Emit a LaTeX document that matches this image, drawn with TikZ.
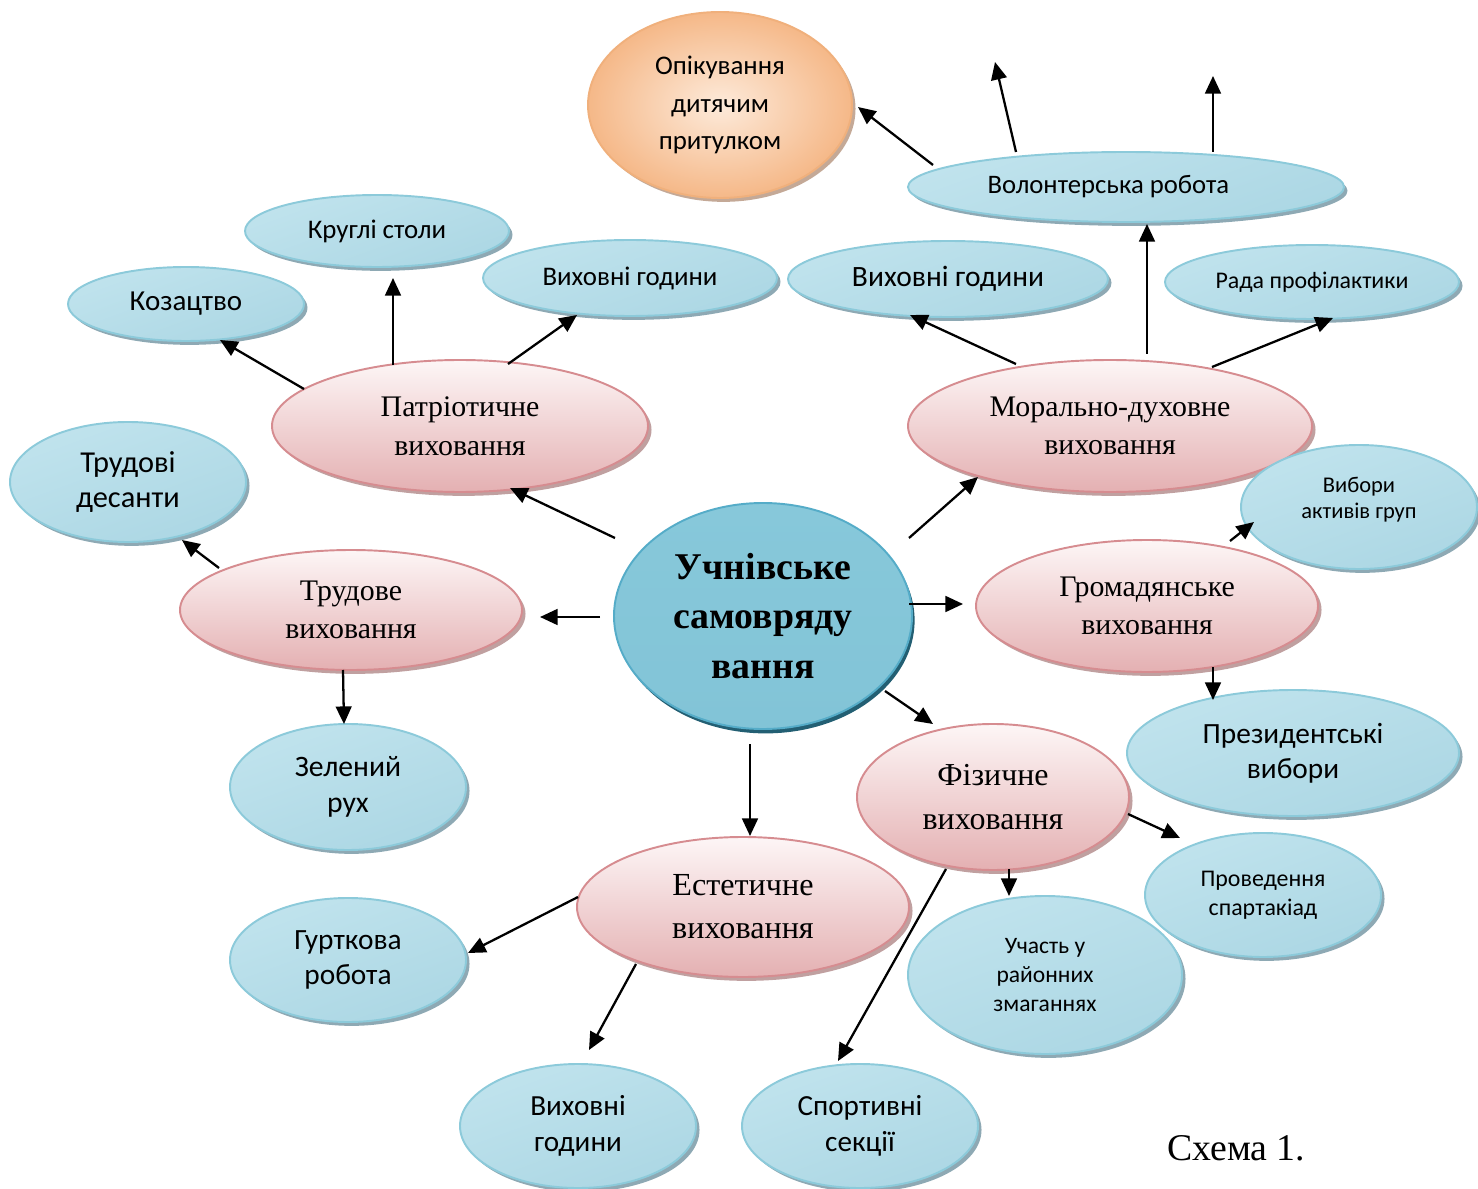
\documentclass[tikz,border=0pt]{standalone}
\usepackage{fontspec}
\setmainfont{Liberation Serif}
\newfontfamily\calfont{Carlito}
\usetikzlibrary{shapes.geometric,shadows,arrows.meta}
\definecolor{blTop}{RGB}{192,227,237}
\definecolor{blMid}{RGB}{228,243,248}
\definecolor{blBot}{RGB}{172,215,228}
\definecolor{blDraw}{RGB}{140,202,218}
\definecolor{blShadow}{RGB}{130,160,172}
\definecolor{pkTop}{RGB}{253,246,246}
\definecolor{pkMid}{RGB}{244,218,219}
\definecolor{pkBot}{RGB}{228,176,178}
\definecolor{pkDraw}{RGB}{214,140,144}
\definecolor{pkShadow}{RGB}{185,150,150}
\definecolor{cnTop}{RGB}{135,200,218}
\definecolor{cnMid}{RGB}{66,164,195}
\definecolor{cnBot}{RGB}{130,196,215}
\definecolor{cnDraw}{RGB}{85,172,200}
\definecolor{cnShadow}{RGB}{35,95,115}
\definecolor{orIn}{RGB}{253,234,218}
\definecolor{orOut}{RGB}{245,184,136}
\definecolor{orDraw}{RGB}{240,176,124}
\definecolor{orShadow}{RGB}{190,160,140}
\newcommand\fs[2]{\fontsize{#1}{#2}\selectfont}
\tikzset{
  sz/.style 2 args={minimum width=#1*0.02cm, minimum height=#2*0.02cm},
  cf/.style 2 args={font=\calfont\fs{#1}{#2}},
  tf/.style 2 args={font=\fs{#1}{#2}},
  bub/.style={ellipse, inner sep=0pt, align=center, line width=1.1pt},
  blueb/.style={bub, draw=blDraw, top color=blTop, middle color=blMid, bottom color=blBot,
    shading angle=20,
    drop shadow={shadow xshift=2pt, shadow yshift=-2.2pt, fill=blShadow, opacity=0.9}},
  pinkb/.style={bub, draw=pkDraw, top color=pkTop, middle color=pkMid, bottom color=pkBot,
    drop shadow={shadow xshift=2pt, shadow yshift=-2.2pt, fill=pkShadow, opacity=0.9}},
  centb/.style={bub, draw=cnDraw, top color=cnTop, middle color=cnMid, bottom color=cnBot,
    drop shadow={shadow xshift=1.5pt, shadow yshift=-2.5pt, fill=cnShadow, opacity=1}},
  orb/.style={bub, draw=orDraw, inner color=orIn, outer color=orOut,
    drop shadow={shadow xshift=2pt, shadow yshift=-2.2pt, fill=orShadow, opacity=0.9}},
  arr/.style={-{Triangle[length=10pt,width=9pt]}, line width=1.3pt, black},
}
\begin{document}
\begin{tikzpicture}[x=0.02cm, y=-0.02cm]
\useasboundingbox (0,0) rectangle (1478,1189);
% centre
\node[centb, sz={298}{226}, font=\fs{21.5}{28}\bfseries] (cen) at (763,616) {Учнівське\\самовряду\\вання};
% pink
\node[pinkb, sz={376}{132}, tf={17}{22}] (pat) at (460,426) {Патріотичне\\виховання};
\node[pinkb, sz={404}{132}, tf={17}{22}] (mor) at (1110,426) {Морально-духовне\\виховання};
\node[pinkb, sz={342}{120}, tf={17}{21.5}] (trud) at (351,610) {Трудове\\виховання};
\node[pinkb, sz={342}{132}, tf={17}{22}] (grom) at (1147,606) {Громадянське\\виховання};
\node[pinkb, sz={272}{146}, tf={18.2}{25}] (fiz) at (993,797) {Фізичне\\виховання};
\node[pinkb, sz={332}{140}, tf={18.3}{24.5}] (est) at (743,907) {Естетичне\\виховання};
% orange
\node[orb, sz={264}{186}, cf={15.3}{21.5}] (opik) at (720,105) {Опікування\\дитячим\\притулком};
% blue
\node[blueb, sz={436}{70}, cf={15.2}{18}] (volon) at (1126,187) {Волонтерська робота\hspace*{20pt}};
\node[blueb, sz={264}{72}, cf={15.3}{18}] (krug) at (377,231) {Круглі столи};
\node[blueb, sz={236}{74}, cf={16.5}{19}] (koz) at (186,304) {Козацтво};
\node[blueb, sz={294}{76}, cf={15.3}{18}] (vgl) at (630,278) {Виховні години};
\node[blueb, sz={320}{76}, cf={16.8}{19}] (vgr) at (948,279) {Виховні години};
\node[blueb, sz={294}{74}, cf={13.6}{16}] (rada) at (1312,282) {Рада профілактики};
\node[blueb, sz={236}{120}, cf={17.3}{20.4}] (trd) at (128,482) {Трудові\\десанти};
\node[blueb, sz={236}{124}, cf={12.8}{14.7}] (vyb) at (1359,507) {\raisebox{1pt}[0pt][0pt]{\begin{tabular}{@{}c@{}}Вибори\\активів груп\end{tabular}}};
\node[blueb, sz={236}{126}, cf={16.9}{20.4}] (zel) at (348,787) {Зелений\\рух};
\node[blueb, sz={332}{126}, cf={16.7}{20}] (prez) at (1293,753) {Президентські\\вибори};
\node[blueb, sz={236}{124}, cf={13.6}{16.4}] (prov) at (1263,895) {Проведення\\спартакіад};
\node[blueb, sz={274}{158}, cf={13.4}{16.4}] (uch) at (1045,975) {Участь у\\районних\\змаганнях};
\node[blueb, sz={236}{124}, cf={16.7}{20.4}] (gurt) at (348,960) {Гурткова\\робота};
\node[blueb, sz={236}{124}, cf={16.6}{20.4}] (vgb) at (578,1126) {Виховні\\години};
\node[blueb, sz={236}{124}, cf={16.6}{20.4}] (sport) at (860,1126) {Спортивні\\секції};
% caption
\node[anchor=west, tf={21.5}{24}] (cap) at (1161,1148) {Схема 1.};
% arrow end points
\coordinate (c1) at (615,538);  \coordinate (t1) at (510,488);
\coordinate (c2) at (909,538);  \coordinate (t2) at (978,477);
\coordinate (c3) at (600,617);  \coordinate (t3) at (540,617);
\coordinate (c4) at (909,604);  \coordinate (t4) at (963,604);
\coordinate (c5) at (885,691);  \coordinate (t5) at (933,724);
\coordinate (c6) at (750,744);  \coordinate (t6) at (750,836);
\coordinate (p1) at (304,389);  \coordinate (k1) at (220,340);
\coordinate (p2) at (393,365);  \coordinate (k2) at (393,278);
\coordinate (p3) at (508,364);  \coordinate (k3) at (577,315);
\coordinate (m1) at (1016,364); \coordinate (n1) at (910,315);
\coordinate (m2) at (1147,354); \coordinate (n2) at (1147,224);
\coordinate (m3) at (1212,367); \coordinate (n3) at (1333,318);
\coordinate (v1) at (933,165);  \coordinate (w1) at (858,107);
\coordinate (v2) at (1016,152); \coordinate (w2) at (995,62);
\coordinate (v3) at (1213,152); \coordinate (w3) at (1213,76);
\coordinate (r1) at (219,568);  \coordinate (s1) at (182,540);
\coordinate (r2) at (343,670);  \coordinate (s2) at (344,724);
\coordinate (g1) at (1230,541); \coordinate (h1) at (1254,522);
\coordinate (g2) at (1213,667); \coordinate (h2) at (1213,700);
\coordinate (f1) at (1128,814); \coordinate (q1) at (1180,838);
\coordinate (f2) at (1009,869); \coordinate (q2) at (1009,896);
\coordinate (f3) at (946,869);  \coordinate (q3) at (838,1061);
\coordinate (e1) at (578,897);  \coordinate (d1) at (468,953);
\coordinate (e2) at (636,964);  \coordinate (d2) at (589,1050);
\foreach \a/\b in {c1/t1,c2/t2,c3/t3,c4/t4,c5/t5,c6/t6,p1/k1,p2/k2,p3/k3,m1/n1,m2/n2,m3/n3,
  v1/w1,v2/w2,v3/w3,r1/s1,r2/s2,g1/h1,g2/h2,f1/q1,f2/q2,f3/q3,e1/d1,e2/d2}
  \draw[arr] (\a) -- (\b);
\end{tikzpicture}
\end{document}
